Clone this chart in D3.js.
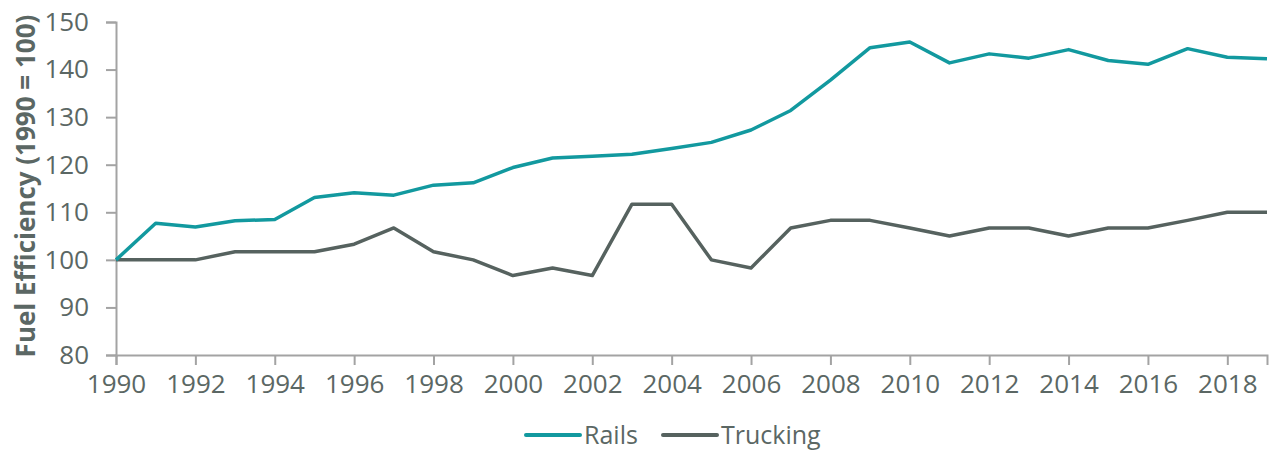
<!DOCTYPE html>
<html>
<head>
<meta charset="utf-8">
<script src="https://cdn.jsdelivr.net/npm/d3@7"></script>
<style>
  body { margin: 0; background: #fff; }
  svg text { font-family: "Open Sans", sans-serif; fill: #5b6764; }
</style>
</head>
<body>
<svg id="chart" width="1284" height="451"></svg>
<script>
// data
const years = d3.range(1990, 2020);
const rails = [100, 107.7, 106.9, 108.2, 108.5, 113.1, 114.1, 113.6, 115.7, 116.2,
  119.4, 121.4, 121.8, 122.2, 123.4, 124.7, 127.3, 131.4, 137.8, 144.6,
  145.8, 141.4, 143.3, 142.4, 144.2, 141.9, 141.1, 144.4, 142.6, 142.3];
const trucking = [100, 100, 100, 101.7, 101.7, 101.7, 103.3, 106.7, 101.7, 100,
  96.7, 98.3, 96.7, 111.7, 111.7, 100, 98.3, 106.7, 108.3, 108.3,
  106.7, 105, 106.7, 106.7, 105, 106.7, 106.7, 108.3, 110, 110];
const yTicks = [80, 90, 100, 110, 120, 130, 140, 150];
const xTicks = d3.range(1990, 2019, 2);
const seriesNames = ['Rails', 'Trucking'];
const colors = {Rails: '#12999f', Trucking: '#56625f'};

const svg = d3.select('#chart');
const margin = {left: 116, right: 17, top: 22, bottom: 96};
const W = 1284, H = 451;

let x = d3.scaleLinear().domain([1990, 2019]).range([margin.left, W - margin.right]);
let y = d3.scaleLinear().domain([80, 150]).range([H - margin.bottom, margin.top]);

// y axis
let gy = svg.append('g').attr('transform', `translate(${margin.left},0)`)
  .call(d3.axisLeft(y).tickValues(yTicks).tickSize(10).tickPadding(17));
gy.selectAll('text').style('font-size', '26px');

// x axis
let gx = svg.append('g').attr('transform', `translate(0,${y(80)})`)
  .call(d3.axisBottom(x).tickValues(xTicks).tickFormat(d3.format('d')).tickSize(10).tickPadding(10));
gx.selectAll('text').style('font-size', '26px');

svg.selectAll('.domain, .tick line').attr('stroke', '#a3a3a3').attr('stroke-width', 2);

// y title
svg.append('text')
  .attr('transform', `translate(35,${(12 + 360) / 2}) rotate(-90)`)
  .attr('text-anchor', 'middle')
  .style('font-size', '26px').style('font-weight', 'bold')
  .text('Fuel Efficiency (1990 = 100)');

// lines
let line = d3.line().x((d, i) => x(years[i])).y(d => y(d));
[['Trucking', trucking], ['Rails', rails]].forEach(([name, vals]) => {
  svg.append('path').datum(vals)
    .attr('d', line)
    .attr('fill', 'none')
    .attr('stroke', colors[name])
    .attr('stroke-width', 3.5)
    .attr('stroke-linejoin', 'round');
});

// legend
let legendX = [526, 663];
seriesNames.forEach((name, i) => {
  let lg = svg.append('g').attr('transform', `translate(${legendX[i]},435)`);
  lg.append('line').attr('x1', 0).attr('x2', 54).attr('y1', 0).attr('y2', 0)
    .attr('stroke', colors[name]).attr('stroke-width', 4).attr('stroke-linecap', 'round');
  lg.append('text').attr('x', 58).attr('y', 9).style('font-size', '25px').text(name);
});
</script>
</body>
</html>
